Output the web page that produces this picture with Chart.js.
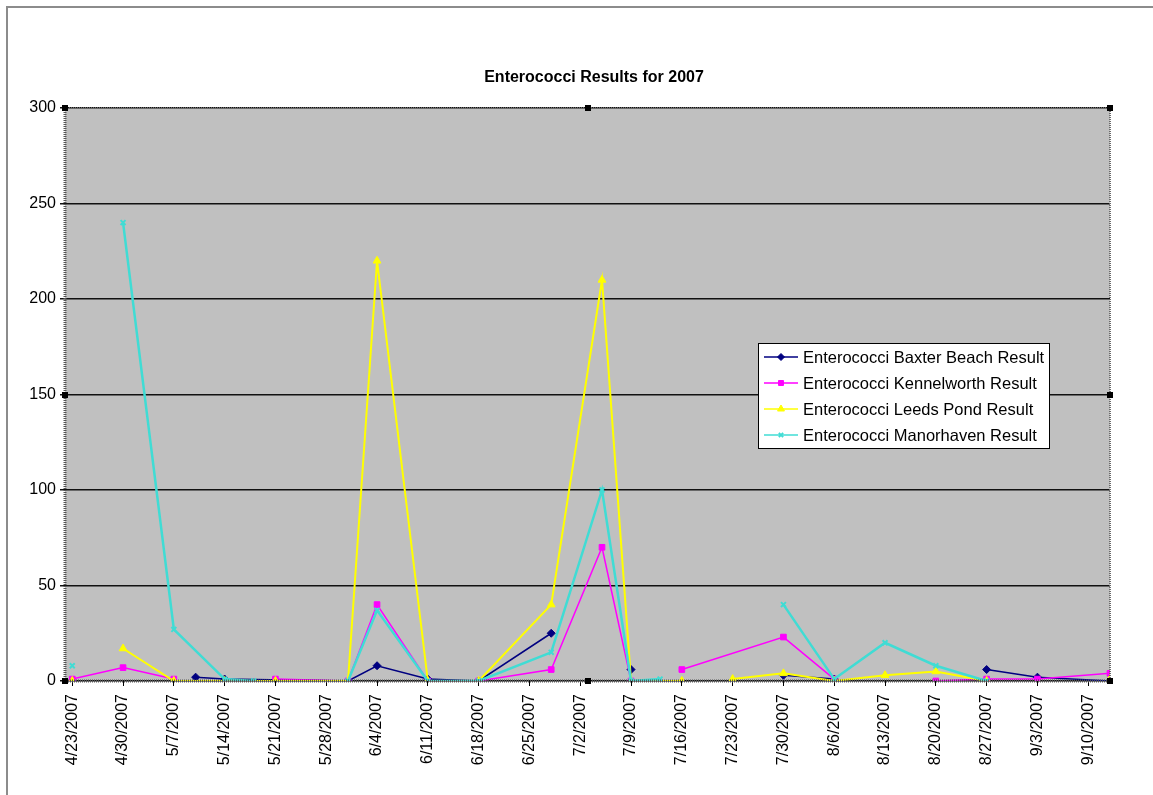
<!DOCTYPE html>
<html>
<head>
<meta charset="utf-8">
<title>Enterococci Results for 2007</title>
<script src="https://cdn.jsdelivr.net/npm/chart.js@4.4.0/dist/chart.umd.min.js"></script>
<style>
  html, body { margin: 0; padding: 0; background: #fff; }
  #wrap { position: relative; width: 1153px; height: 795px; overflow: hidden; }
  #frame { position: absolute; left: 6px; top: 6px; width: 1170px; height: 820px; border: 2px solid #8c8c8c; }
  #box { position: absolute; left: 0; top: 0; width: 1153px; height: 795px; }
</style>
</head>
<body>
<div id="wrap">
  <div id="frame"></div>
  <div id="box"><canvas id="chart"></canvas></div>
</div>
<script>
const chartTitle = 'Enterococci Results for 2007';

// weekly axis labels
const tickDates = ['4/23/2007', '4/30/2007', '5/7/2007', '5/14/2007', '5/21/2007', '5/28/2007', '6/4/2007',
  '6/11/2007', '6/18/2007', '6/25/2007', '7/2/2007', '7/9/2007', '7/16/2007', '7/23/2007', '7/30/2007',
  '8/6/2007', '8/13/2007', '8/20/2007', '8/27/2007', '9/3/2007', '9/10/2007'];
const axisStart = '4/22/2007';
const axisEnd = '9/13/2007';

// sample dates and results per beach (null = no sample, line breaks there)
const baxterDates = ['4/23/2007', '5/7/2007', '5/10/2007', '5/14/2007', '5/31/2007', '6/4/2007', '6/11/2007', '6/18/2007',
  '6/28/2007', '7/5/2007', '7/9/2007', '7/13/2007', '7/30/2007', '8/6/2007', '8/20/2007', '8/27/2007', '9/3/2007', '9/13/2007'];
const baxterValues = [0, null, 2, 1, 0, 8, 1, 0, 25, null, 6, null, 3, 1, null, 6, 2, 0];

const kennelworthDates = ['4/23/2007', '4/30/2007', '5/7/2007', '5/14/2007', '5/21/2007', '5/31/2007', '6/4/2007', '6/11/2007',
  '6/18/2007', '6/28/2007', '7/5/2007', '7/9/2007', '7/13/2007', '7/16/2007', '7/30/2007', '8/6/2007', '8/13/2007',
  '8/20/2007', '8/27/2007', '9/3/2007', '9/13/2007'];
const kennelworthValues = [1, 7, 1, null, 1, 0, 40, 0, 0, 6, 70, 0, null, 6, 23, 1, null, 0, 1, 1, 4];

const leedsDates = ['4/23/2007', '4/26/2007', '4/30/2007', '5/7/2007', '5/14/2007', '5/21/2007', '5/31/2007', '6/4/2007',
  '6/11/2007', '6/18/2007', '6/28/2007', '7/5/2007', '7/9/2007', '7/16/2007', '7/19/2007', '7/23/2007', '7/30/2007',
  '8/6/2007', '8/13/2007', '8/20/2007', '8/27/2007', '9/3/2007', '9/13/2007'];
const leedsValues = [0, null, 17, 0, 0, 0, 0, 220, 0, 0, 40, 210, 0, 0, null, 1, 4, 0, 3, 5, 0, null, 1];

const manorhavenDates = ['4/23/2007', '4/26/2007', '4/30/2007', '5/7/2007', '5/14/2007', '5/18/2007', '5/21/2007', '5/31/2007',
  '6/4/2007', '6/11/2007', '6/18/2007', '6/28/2007', '7/5/2007', '7/9/2007', '7/13/2007', '7/20/2007', '7/30/2007',
  '8/6/2007', '8/13/2007', '8/20/2007', '8/27/2007', '9/3/2007', '9/13/2007'];
const manorhavenValues = [8, null, 240, 27, 1, 0, null, 0, 37, 0, 0, 15, 100, 0, 1, null, 40, 1, 20, 8, 0, null, 0];

const yTicks = [0, 50, 100, 150, 200, 250, 300];

// days since the start of the axis
function dayOf(s) {
  const p = s.split('/').map(Number);
  const a = axisStart.split('/').map(Number);
  return (Date.UTC(p[2], p[0] - 1, p[1]) - Date.UTC(a[2], a[0] - 1, a[1])) / 86400000;
}

function points(dates, values) {
  return dates.map((d, i) => ({ x: dayOf(d), y: values[i] }));
}

function series(label, dates, values, color, style, radius, width, order) {
  return {
    label: label,
    data: points(dates, values),
    borderColor: color,
    backgroundColor: color,
    pointBackgroundColor: color,
    pointBorderColor: color,
    pointStyle: style,
    pointRadius: radius,
    pointBorderWidth: style === 'crossRot' ? 2 : 1,
    borderWidth: width,
    tension: 0,
    spanGaps: false,
    order: order
  };
}

const FONT = 'Arial, "Liberation Sans", sans-serif';

// grey plot area, dotted frame, selection handles, title and the legend box
const plotFrame = {
  id: 'plotFrame',
  beforeDraw(chart) {
    const a = chart.chartArea;
    const ctx = chart.ctx;
    ctx.save();
    ctx.fillStyle = '#c0c0c0';
    ctx.fillRect(a.left, a.top, a.right - a.left, a.bottom - a.top);
    ctx.restore();
  },
  afterDraw(chart) {
    const a = chart.chartArea;
    const ctx = chart.ctx;
    const o = chart.options.plugins.plotFrame;
    ctx.save();
    ctx.setLineDash([1, 1]);
    ctx.strokeStyle = '#555';
    ctx.lineWidth = 3;
    ctx.beginPath();
    ctx.moveTo(a.left, a.top); ctx.lineTo(a.left, a.bottom); ctx.lineTo(a.right, a.bottom);
    ctx.stroke();
    ctx.strokeStyle = '#6a6a6a';
    ctx.lineWidth = 2;
    ctx.beginPath();
    ctx.moveTo(a.left, a.top); ctx.lineTo(a.right, a.top); ctx.lineTo(a.right, a.bottom);
    ctx.stroke();
    ctx.setLineDash([]);

    // handles
    const mx = (a.left + a.right) / 2, my = (a.top + a.bottom) / 2;
    ctx.fillStyle = '#000';
    [[a.left, a.top], [mx, a.top], [a.right, a.top], [a.left, my], [a.right, my],
     [a.left, a.bottom], [mx, a.bottom], [a.right, a.bottom]].forEach(h => {
      ctx.fillRect(Math.round(h[0]) - 3, Math.round(h[1]) - 3, 6, 6);
    });

    // title
    ctx.fillStyle = '#000';
    ctx.font = 'bold 16px ' + FONT;
    ctx.textAlign = 'center';
    ctx.textBaseline = 'middle';
    ctx.fillText(chartTitle, o.titleX, o.titleY);

    // legend
    ctx.textAlign = 'left';
    ctx.fillStyle = '#fff';
    ctx.fillRect(o.x, o.y, o.w, o.h);
    ctx.strokeStyle = '#000';
    ctx.lineWidth = 1;
    ctx.strokeRect(o.x + 0.5, o.y + 0.5, o.w, o.h);
    ctx.font = '16.5px ' + FONT;
    chart.data.datasets.forEach((ds, i) => {
      const y = o.y + 14 + i * 26;
      ctx.strokeStyle = ds.borderColor;
      ctx.lineWidth = 1.5;
      ctx.beginPath();
      ctx.moveTo(o.x + 6, y); ctx.lineTo(o.x + 40, y);
      ctx.stroke();
      ctx.fillStyle = ds.borderColor;
      ctx.lineWidth = ds.pointBorderWidth;
      Chart.helpers.drawPoint(ctx, { pointStyle: ds.pointStyle, radius: ds.pointRadius - 0.5, rotation: 0, borderWidth: ds.pointBorderWidth }, o.x + 23, y);
      ctx.fillStyle = '#000';
      ctx.fillText(ds.label, o.x + 45, y + 1);
    });
    ctx.restore();
  }
};

new Chart(document.getElementById('chart'), {
  type: 'line',
  data: {
    datasets: [
      series('Enterococci Baxter Beach Result', baxterDates, baxterValues, '#000080', 'rectRot', 4, 1.5, 3),
      series('Enterococci Kennelworth Result', kennelworthDates, kennelworthValues, '#ff00ff', 'rect', 4, 1.5, 2),
      series('Enterococci Leeds Pond Result', leedsDates, leedsValues, '#ffff00', 'triangle', 4.5, 2, 1),
      series('Enterococci Manorhaven Result', manorhavenDates, manorhavenValues, '#40dcd4', 'crossRot', 3.5, 2.5, 0)
    ]
  },
  options: {
    responsive: true,
    maintainAspectRatio: false,
    animation: false,
    layout: { padding: { left: 0, right: 43, top: 108, bottom: 0 } },
    scales: {
      x: {
        type: 'linear',
        min: dayOf(axisStart),
        max: dayOf(axisEnd),
        afterBuildTicks: scale => { scale.ticks = tickDates.map(d => ({ value: dayOf(d) })); },
        afterFit: scale => { scale.height = 114; },
        border: { display: false },
        grid: { drawOnChartArea: false, drawTicks: true, tickLength: 5, color: '#000' },
        ticks: {
          autoSkip: false,
          minRotation: 90,
          maxRotation: 90,
          padding: 8,
          color: '#000',
          font: { family: FONT, size: 16 },
          callback: (v, i) => tickDates[i]
        }
      },
      y: {
        min: 0,
        max: 300,
        afterBuildTicks: scale => { scale.ticks = yTicks.map(v => ({ value: v })); },
        afterFit: scale => { scale.width = 65; },
        border: { display: false },
        grid: { color: '#111', lineWidth: 1.5, tickLength: 5 },
        ticks: { padding: 4, color: '#000', font: { family: FONT, size: 16 } }
      }
    },
    plugins: {
      legend: { display: false },
      tooltip: { enabled: false },
      title: { display: false },
      plotFrame: { x: 758, y: 343, w: 291, h: 105, titleX: 594, titleY: 78 }
    }
  },
  plugins: [plotFrame]
});
</script>
</body>
</html>
